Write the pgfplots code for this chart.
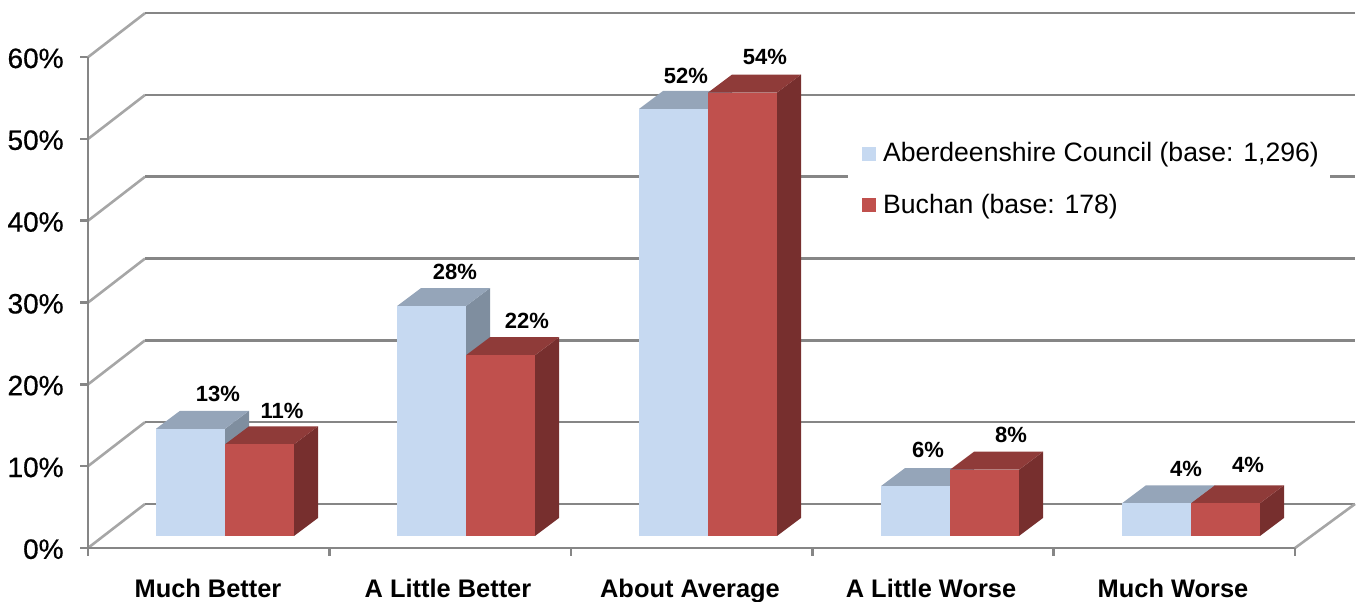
\documentclass[border=0pt]{standalone}
\usepackage{fontspec}
\setmainfont{Liberation Sans}
\newfontfamily\semibold[FakeBold=0.6]{Liberation Sans}
\usepackage{pgfplots}
\pgfplotsset{compat=1.18}

\definecolor{gridgray}{HTML}{868686}
\definecolor{diaggray}{HTML}{A6A6A6}
\definecolor{blueF}{HTML}{C6D9F1}
\definecolor{blueT}{HTML}{95A5B9}
\definecolor{blueS}{HTML}{7F8E9F}
\definecolor{redF}{HTML}{C0504D}
\definecolor{redT}{HTML}{8F3B39}
\definecolor{redS}{HTML}{772F2E}

% x runs in reference pixels, y in percent; bar floor sits 1.47% above the axis
\newcommand{\threedbar}[3]{%
  \pgfmathsetmacro\xb{#1+69}%
  \pgfmathsetmacro\xc{#1+24}%
  \pgfmathsetmacro\xd{#1+69+24}%
  \pgfmathsetmacro\yb{1.47}%
  \pgfmathsetmacro\ybb{1.47+2.2}%
  \pgfmathsetmacro\yt{#2+1.47}%
  \pgfmathsetmacro\ytt{#2+1.47+2.2}%
  \addplot[fill=#3S,draw=none,forget plot] coordinates {(\xb,\yb) (\xd,\ybb) (\xd,\ytt) (\xb,\yt)} -- cycle;
  \addplot[fill=#3T,draw=none,forget plot] coordinates {(#1,\yt) (\xc,\ytt) (\xd,\ytt) (\xb,\yt)} -- cycle;
  \addplot[fill=#3F,draw=none,forget plot] coordinates {(#1,\yb) (\xb,\yb) (\xb,\yt) (#1,\yt)} -- cycle;
}
% one gridline: tick, diagonal on the side wall, line along the back wall
\newcommand{\gridlevel}[1]{%
  \pgfmathsetmacro\yy{#1+5.38}%
  \addplot[gridgray,line width=1.3pt,forget plot] coordinates {(80,#1) (88,#1)};
  \addplot[diaggray,line width=1.3pt,forget plot] coordinates {(88,#1) (145,\yy)};
  \addplot[gridgray,line width=1.3pt,forget plot] coordinates {(145,\yy) (1355,\yy)};
}

\begin{document}
\begin{tikzpicture}
\begin{axis}[
    name=ax,
    scale only axis,
    width=681pt,
    height=300.5pt,
    xmin=0, xmax=1362,
    ymin=-6.48, ymax=66.99,
    clip=false,
    axis line style={draw=none},
    tick style={draw=none},
    major tick length=0pt,
    xtick={208,448,690,931,1173},
    xticklabels={Much Better,A Little Better,About Average,A Little Worse,Much Worse},
    xticklabel style={anchor=base,inner sep=0pt,yshift=2pt,font=\fontsize{12.7}{14}\selectfont\bfseries},
    ytick={0,10,20,30,40,50,60},
    yticklabels={0\%,10\%,20\%,30\%,40\%,50\%,60\%},
    yticklabel style={anchor=east,inner sep=0pt,xshift=32pt,yshift=-0.6pt,font=\fontsize{14}{15}\selectfont\semibold},
    legend cell align=left,
    legend style={at={(axis cs:862,50.1)},anchor=north west,draw=none,fill=none,
      font=\fontsize{13.3}{15}\selectfont,row sep=10.5pt,inner sep=0pt},
]
\gridlevel{0}
\gridlevel{10}
\gridlevel{20}
\gridlevel{30}
\gridlevel{40}
\gridlevel{50}
\gridlevel{60}
% front floor edge, y axis, right floor edge
\addplot[gridgray,line width=1.3pt,forget plot] coordinates {(88,60) (88,0) (1295,0)};
\addplot[diaggray,line width=1.3pt,forget plot] coordinates {(1295,0) (1355,5.38)};
\addplot[gridgray,line width=1.3pt,forget plot] coordinates {(88,0) (88,-1)};
\addplot[gridgray,line width=1.3pt,forget plot] coordinates {(329.4,0) (329.4,-1)};
\addplot[gridgray,line width=1.3pt,forget plot] coordinates {(570.8,0) (570.8,-1)};
\addplot[gridgray,line width=1.3pt,forget plot] coordinates {(812.2,0) (812.2,-1)};
\addplot[gridgray,line width=1.3pt,forget plot] coordinates {(1053.6,0) (1053.6,-1)};
\addplot[gridgray,line width=1.3pt,forget plot] coordinates {(1295,0) (1295,-1)};

% white patch behind the legend
\addplot[fill=white,draw=none,forget plot] coordinates {(848,55) (1330,55) (1330,40) (848,40)} -- cycle;

\threedbar{156}{13.1}{blue}
\threedbar{225}{11.2}{red}
\threedbar{397}{28.1}{blue}
\threedbar{466}{22.1}{red}
\threedbar{639}{52.2}{blue}
\threedbar{708}{54.2}{red}
\threedbar{881}{6.1}{blue}
\threedbar{950}{8.1}{red}
\threedbar{1122}{4.0}{blue}
\threedbar{1191}{4.0}{red}

% data labels
\addplot[draw=none,forget plot,point meta=explicit symbolic,
    nodes near coords,
    nodes near coords style={anchor=center,inner sep=0pt,font=\fontsize{11}{12}\selectfont\bfseries}]
  coordinates {
    (218,18.83)[13\%] (282,16.75)[11\%]
    (455,33.74)[28\%] (527,27.75)[22\%]
    (686,57.70)[52\%] (765,60.02)[54\%]
    (928,11.98)[6\%] (1011,13.81)[8\%]
    (1186,9.66)[4\%] (1248,10.15)[4\%]
  };

\addlegendimage{legend image code/.code={\fill[blueF] (0pt,-3.25pt) rectangle (6.5pt,3.25pt); \path (8pt,0pt);}}
\addlegendentry{Aberdeenshire Council (base: 1,296)}
\addlegendimage{legend image code/.code={\fill[redF] (0pt,-3.25pt) rectangle (6.5pt,3.25pt); \path (8pt,0pt);}}
\addlegendentry{Buchan (base: 178)}
\end{axis}
\pgfresetboundingbox
\path (ax.south west) rectangle (ax.north east);
\end{tikzpicture}
\end{document}
